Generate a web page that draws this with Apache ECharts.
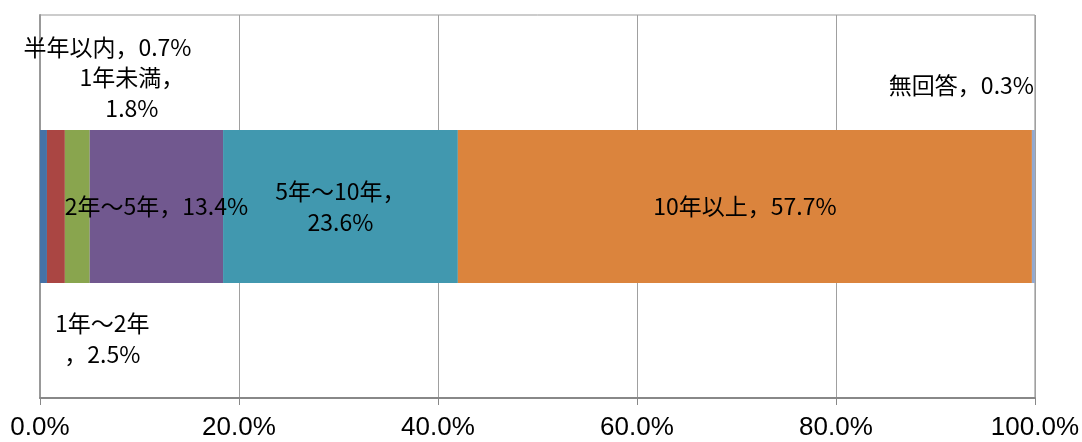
<!DOCTYPE html>
<html>
<head>
<meta charset="utf-8">
<script src="https://cdn.jsdelivr.net/npm/echarts@6/dist/echarts.min.js"></script>
<style>html,body{margin:0;padding:0;background:#fff;}#c{width:1082px;height:442px;}</style>
</head>
<body>
<div id="c"></div>
<script>
const categories = [''];
const seriesNames = ['半年以内', '1年未満', '1年～2年', '2年～5年', '5年～10年', '10年以上', '無回答'];
const seriesValues = [0.7, 1.8, 2.5, 13.4, 23.6, 57.7, 0.3];
const tickLabels = ['0.0%', '20.0%', '40.0%', '60.0%', '80.0%', '100.0%'];

// styling only
const colors = ['#4572A7', '#AA4643', '#89A54E', '#71588F', '#4198AF', '#DB843D', '#93A9CF'];
const labelOffsets = [[64, -159], [76, -114], [25, 132], [0, 0], [0, 0], [0, 0], [-72, -121]];
const labelBreak = ['none', 'after', 'before', 'none', 'after', 'none', 'none'];

const FONT = "'Noto Sans CJK JP', sans-serif";

function labelText(i) {
  const name = seriesNames[i];
  const val = seriesValues[i].toFixed(1) + '%';
  if (labelBreak[i] === 'after') return name + '，\n' + val;
  if (labelBreak[i] === 'before') return name + '\n，' + val;
  return name + '，' + val;
}

const series = seriesNames.map((name, i) => ({
  name: name,
  type: 'bar',
  stack: 'total',
  barWidth: 153,
  data: [seriesValues[i]],
  itemStyle: { color: colors[i] },
  label: {
    show: true,
    position: 'inside',
    offset: labelOffsets[i],
    formatter: () => labelText(i),
    color: '#000',
    fontSize: 23,
    lineHeight: 31,
    fontFamily: FONT,
    align: 'center'
  }
}));

const chart = echarts.init(document.getElementById('c'));
chart.setOption({
  animation: false,
  grid: { left: 40, right: 47, top: 15, bottom: 44, show: true, borderColor: '#999', borderWidth: 1, backgroundColor: 'transparent' },
  xAxis: {
    type: 'value', min: 0, max: 100, interval: 20,
    axisLine: { show: true, lineStyle: { color: '#888', width: 2 } },
    axisTick: { show: true, length: 7, lineStyle: { color: '#888', width: 1 } },
    splitLine: { show: true, lineStyle: { color: '#a0a0a0', width: 1 } },
    axisLabel: {
      margin: 17, color: '#000', fontSize: 26, fontFamily: "'Liberation Sans', Arial, sans-serif",
      formatter: (v) => tickLabels[Math.round(v / 20)]
    }
  },
  yAxis: {
    type: 'category', data: categories,
    axisLine: { show: true, lineStyle: { color: '#999', width: 2 } },
    axisTick: { show: false },
    axisLabel: { show: false }
  },
  series: series
});
</script>
</body>
</html>
